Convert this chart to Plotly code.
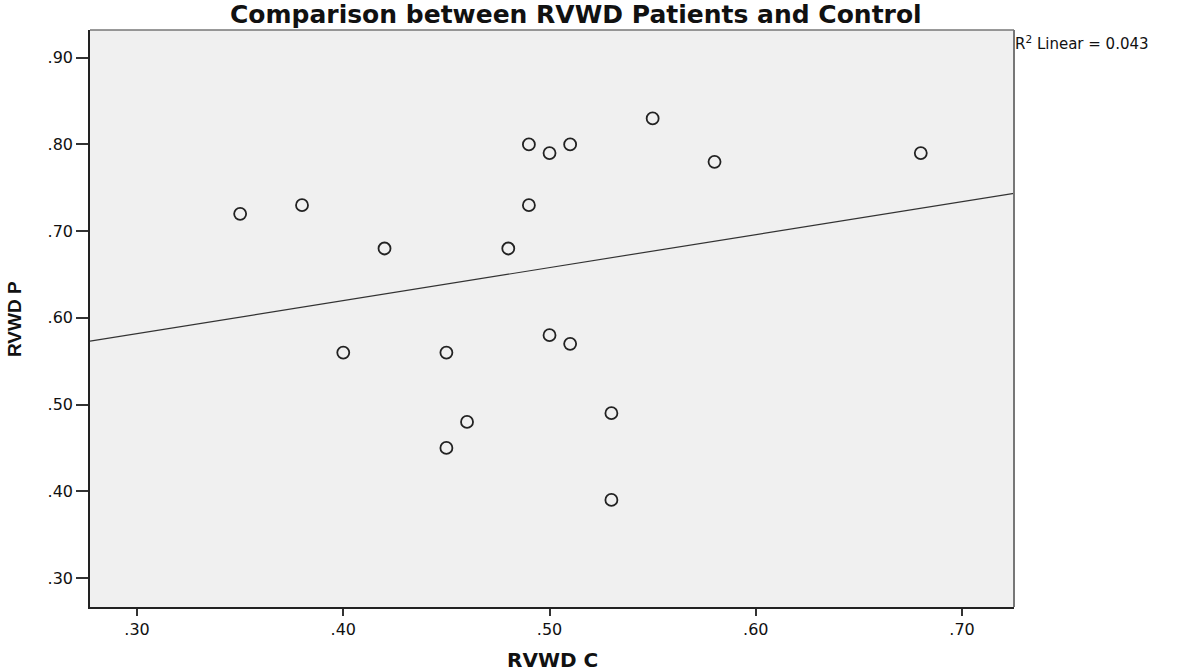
import numpy as np
import plotly.graph_objects as go

rvwd_c = [0.35, 0.38, 0.40, 0.42, 0.45, 0.45, 0.46, 0.48, 0.49, 0.49,
          0.50, 0.50, 0.51, 0.51, 0.53, 0.53, 0.55, 0.58, 0.68]
rvwd_p = [0.72, 0.73, 0.56, 0.68, 0.56, 0.45, 0.48, 0.68, 0.80, 0.73,
          0.79, 0.58, 0.80, 0.57, 0.49, 0.39, 0.83, 0.78, 0.79]

x_ticks = [0.30, 0.40, 0.50, 0.60, 0.70]
x_tick_labels = [".30", ".40", ".50", ".60", ".70"]
y_ticks = [0.30, 0.40, 0.50, 0.60, 0.70, 0.80, 0.90]
y_tick_labels = [".30", ".40", ".50", ".60", ".70", ".80", ".90"]

x_range = [0.2772, 0.7252]
y_range = [0.2665, 0.932]

slope, intercept = np.polyfit(rvwd_c, rvwd_p, 1)
fit_x = np.array(x_range)
fit_y = slope * fit_x + intercept

FONT = "DejaVu Sans, Liberation Sans, Arial, sans-serif"
W, H = 1181, 671

fig = go.Figure()
fig.add_trace(go.Scatter(x=fit_x, y=fit_y, mode="lines",
                         line=dict(color="#333333", width=1.2),
                         hoverinfo="skip", showlegend=False))
fig.add_trace(go.Scatter(x=rvwd_c, y=rvwd_p, mode="markers",
                         marker=dict(symbol="circle-open", size=12,
                                     color="#222222", line=dict(width=1.8)),
                         showlegend=False))

fig.update_layout(
    width=W, height=H,
    margin=dict(l=90, r=167, t=30, b=64, autoexpand=False),
    paper_bgcolor="white",
    plot_bgcolor="#F0F0F0",
    font=dict(family=FONT, color="#111111"),
    xaxis=dict(range=x_range, tickvals=x_ticks, ticktext=x_tick_labels,
               showgrid=False, zeroline=False, ticks="outside", ticklen=7,
               tickwidth=1.5, tickcolor="#333333", automargin=False,
               showline=True, linecolor="#222222", linewidth=1.6, mirror=False,
               tickfont=dict(size=16)),
    yaxis=dict(range=y_range, tickvals=y_ticks, ticktext=y_tick_labels,
               showgrid=False, zeroline=False, ticks="outside", ticklen=12,
               tickwidth=1.5, tickcolor="#333333", automargin=False,
               showline=True, linecolor="#222222", linewidth=1.6, mirror=False,
               tickfont=dict(size=16)),
)

# title
fig.add_annotation(xref="paper", yref="paper", x=(576 - 90) / 924, y=1,
                   xanchor="center", yanchor="middle", yshift=16, showarrow=False,
                   text="<b>Comparison between RVWD Patients and Control</b>",
                   font=dict(size=25, color="#111111"))

# frame top / right (lighter grey)
fig.add_shape(type="line", xref="paper", yref="paper", x0=0, x1=1, y0=1, y1=1,
              line=dict(color="#777777", width=1.6))
fig.add_shape(type="line", xref="paper", yref="paper", x0=1, x1=1, y0=0, y1=1,
              line=dict(color="#777777", width=2))

# axis titles
fig.add_annotation(xref="paper", yref="paper", x=0.5, y=0, xanchor="center",
                   yanchor="middle", yshift=-53, showarrow=False,
                   text="<b>RVWD C</b>", font=dict(size=20, color="#111111"))
fig.add_annotation(xref="paper", yref="paper", x=0, y=0.499, xanchor="center",
                   yanchor="middle", xshift=-76, showarrow=False, textangle=-90,
                   text="<b>RVWD P</b>",
                   font=dict(size=19, color="#111111",
                             family="Liberation Sans, Arial, sans-serif"))

fig.add_annotation(xref="paper", yref="paper", x=1.0, y=1.0,
                   xanchor="left", yanchor="top", xshift=-1, yshift=-1,
                   text="R<sup>2</sup> Linear = 0.043", showarrow=False,
                   font=dict(size=15, color="#111111"))

# remove the default 8px page margin so the figure fills the window exactly
fig.write_html("out.html", config={"displayModeBar": False},
               post_script="document.body.style.margin='0';")
